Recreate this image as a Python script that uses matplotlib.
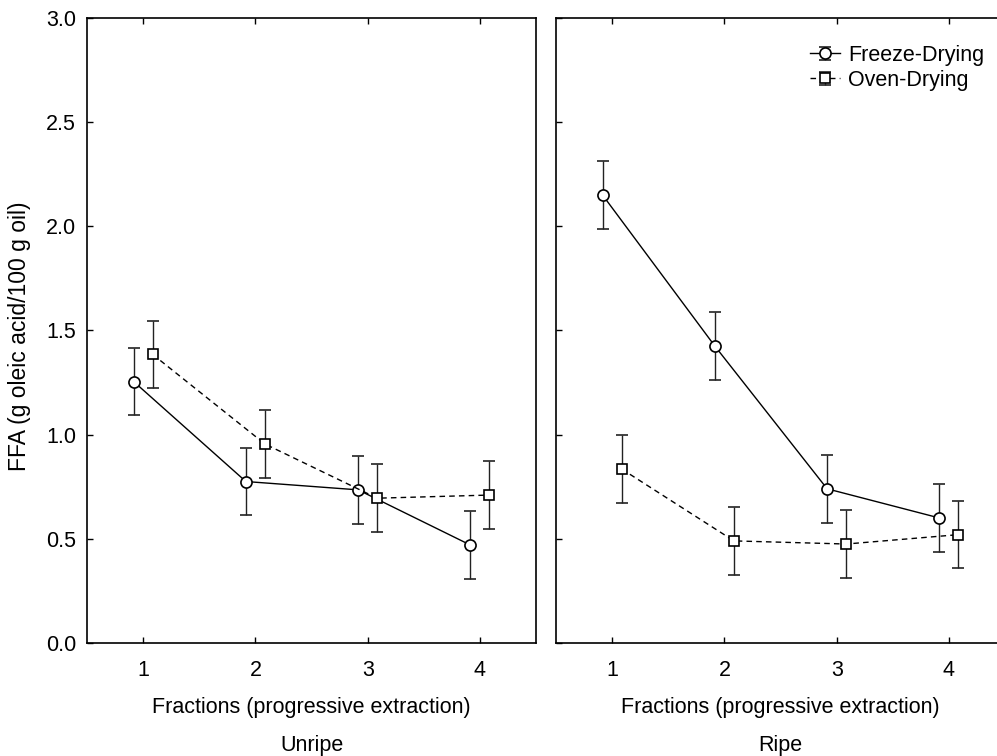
import numpy as np
import matplotlib.pyplot as plt
from matplotlib.legend_handler import HandlerErrorbar
from matplotlib.container import ErrorbarContainer

plt.rcParams['font.family'] = ['Liberation Sans', 'DejaVu Sans']

fractions = np.array([1, 2, 3, 4])

unripe_freeze = [1.255, 0.775, 0.735, 0.47]
unripe_oven = [1.385, 0.955, 0.695, 0.71]
ripe_freeze = [2.15, 1.425, 0.74, 0.60]
ripe_oven = [0.835, 0.49, 0.475, 0.52]
err = 0.162

panels = [
    ("Unripe", unripe_freeze, unripe_oven),
    ("Ripe", ripe_freeze, ripe_oven),
]

fs = 15.5

fig = plt.figure(figsize=(9.97, 7.56), dpi=100)

ax_left = fig.add_axes([0.0873, 0.1495, 0.4504, 0.8267])
ax_right = fig.add_axes([0.5577, 0.1495, 0.4504, 0.8267])

off = 0.085

for ax, (name, fd, od) in zip([ax_left, ax_right], panels):

    ax.errorbar(
        fractions - off, fd, yerr=err,
        color="black", ecolor="#222222",
        linestyle="-", linewidth=1,
        marker="o", markersize=8,
        markerfacecolor="white", markeredgecolor="black",
        markeredgewidth=1.2,
        capsize=4, elinewidth=1, capthick=1,
        label="Freeze-Drying"
    )

    ax.errorbar(
        fractions + off, od, yerr=err,
        color="black", ecolor="#222222",
        linestyle=(0, (4, 3)), linewidth=1,
        marker="s", markersize=7.5,
        markerfacecolor="white", markeredgecolor="black",
        markeredgewidth=1.2,
        capsize=4, elinewidth=1, capthick=1,
        label="Oven-Drying"
    )

    ax.set_xlim(0.5, 4.5)
    ax.set_ylim(0, 3.0)
    ax.set_xticks(fractions)
    ax.set_yticks(np.arange(0, 3.01, 0.5))
    ax.tick_params(direction="in", top=True, right=False,
                   labelsize=fs, length=4, width=1)
    ax.tick_params(axis="x", pad=12)
    ax.tick_params(axis="y", pad=8)

    ax.set_xlabel(
        "Fractions (progressive extraction)",
        fontsize=fs, labelpad=11.5
    )

    for s in ax.spines.values():
        s.set_linewidth(1.2)

    # panel name under the axis label
    bb = ax.get_position()
    fig.text((bb.x0 + bb.x1) / 2, 11 / 756, name,
             ha="center", va="center", fontsize=fs)

ax_left.yaxis.set_major_formatter(plt.FormatStrFormatter("%.1f"))
fig.text(19.5 / 997, (756 - 336) / 756, "FFA (g oleic acid/100 g oil)",
         rotation=90, ha="center", va="center", fontsize=16.5)

ax_right.tick_params(labelleft=False)
ax_right.spines["right"].set_visible(False)

ax_right.legend(
    loc="upper left",
    bbox_to_anchor=(0.537, 0.978),
    frameon=False,
    fontsize=fs,
    handlelength=1.4,
    handletextpad=0.35,
    labelspacing=0.2,
    borderaxespad=0.2,
    handler_map={ErrorbarContainer: HandlerErrorbar(yerr_size=0.3)}
)

fig.savefig("out.png", dpi=100)
